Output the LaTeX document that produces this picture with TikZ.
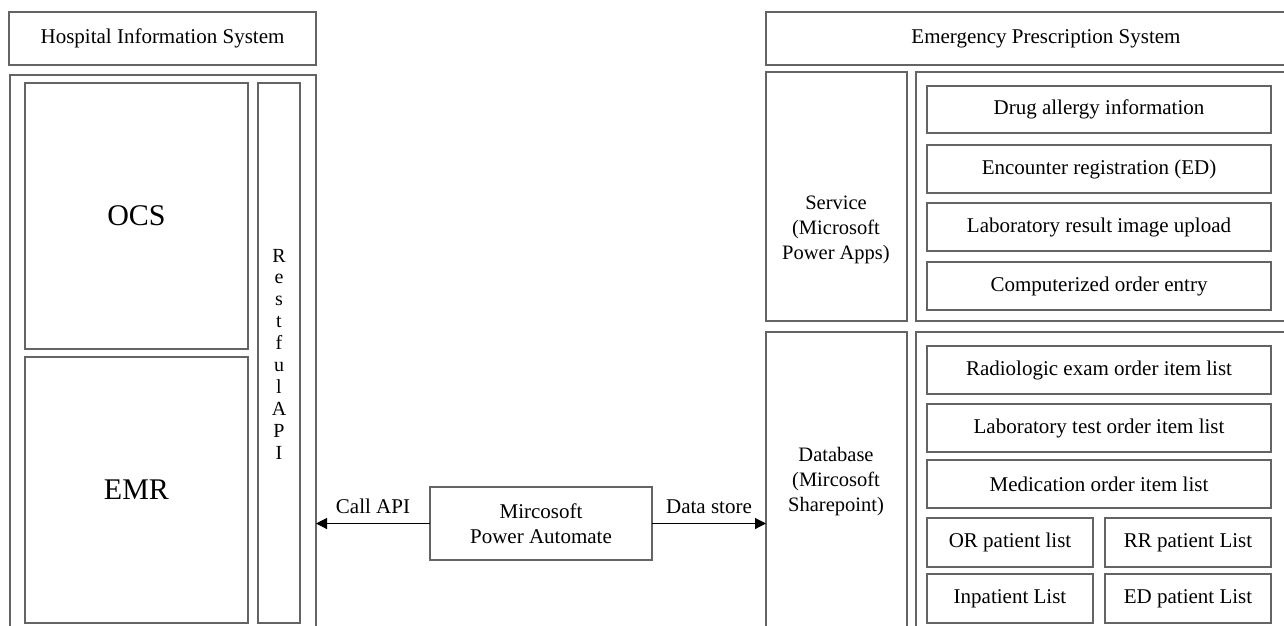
\documentclass[tikz,border=0pt]{standalone}
\usepackage{fontspec}
\setmainfont{Liberation Serif}
\usetikzlibrary{arrows.meta}
\definecolor{edge}{RGB}{100,100,100}
\tikzset{
  box/.style={draw=edge, line width=1.1pt, rectangle, inner sep=0pt, outer sep=0pt, anchor=north west, font=\fontsize{21}{25}\selectfont, align=center, text=black},
  lbl/.style={font=\fontsize{21}{25}\selectfont, align=center, text=black, inner sep=0pt},
  conn/.style={draw=black, line width=1.1pt, -{Triangle[length=11pt,width=11pt]}}
}
\newcommand{\bx}[6][]{\node[box,#1,minimum width=#4pt,minimum height=#5pt] (#2) at #3 {#6};}
\begin{document}
\begin{tikzpicture}[x=1pt,y=-1pt]
\useasboundingbox (0,0) rectangle (1284,625);
\clip (0,0) rectangle (1284,625);
% Hospital Information System
\bx{histitle}{(9,12)}{307}{53}{Hospital Information System}
\bx{hisouter}{(10,75)}{306}{580}{}
\bx[font=\fontsize{30}{32}\selectfont]{ocs}{(25,83)}{223}{266}{OCS}
\bx[font=\fontsize{30}{32}\selectfont]{emr}{(25,357)}{223}{266}{EMR}
\bx{api}{(258,83)}{42}{540}{}
\node[lbl, font=\fontsize{20}{21.9}\selectfont] (apitext) at (279,354) {R\\e\\s\\t\\f\\u\\l\\A\\P\\I};
% Emergency Prescription System
\bx{epstitle}{(766,12)}{560}{53}{Emergency Prescription System}
\bx{service}{(766,72)}{141}{249}{}
\node[lbl, font=\fontsize{20.5}{25}\selectfont] (servicetext) at (836,230) {Service\\(Microsoft\\Power Apps)};
\bx{servcont}{(916,72)}{420}{249}{}
\bx{drug}{(927,86)}{344}{47}{Drug allergy information}
\bx{enc}{(927,145)}{344}{48}{Encounter registration (ED)}
\bx{labimg}{(927,203)}{344}{48}{Laboratory result image upload}
\bx{cpoe}{(927,262)}{344}{48}{Computerized order entry}
\bx{database}{(766,332)}{141}{340}{}
\node[lbl, font=\fontsize{20.5}{25}\selectfont] (dbtext) at (836,482) {Database\\(Mircosoft\\Sharepoint)};
\bx{dbcont}{(916,332)}{420}{340}{}
\bx{radio}{(927,346)}{344}{48}{Radiologic exam order item list}
\bx{labtest}{(927,404)}{344}{48}{Laboratory test order item list}
\bx{med}{(927,460)}{344}{48}{Medication order item list}
\bx{orl}{(927,518)}{166}{49}{OR patient list}
\bx{rrl}{(1105,518)}{166}{49}{RR patient List}
\bx{inl}{(927,574)}{166}{49}{Inpatient List}
\bx{edl}{(1105,574)}{166}{49}{ED patient List}
% Power Automate
\bx{pa}{(430,487)}{222}{73}{Mircosoft\\Power Automate}
\draw[conn] (pa.west) -- (pa.west -| hisouter.east) node[lbl, midway, above=9pt] (callapi) {Call API};
\draw[conn] (pa.east) -- (pa.east -| database.west) node[lbl, midway, above=9pt] (datastore) {Data store};
\end{tikzpicture}
\end{document}
